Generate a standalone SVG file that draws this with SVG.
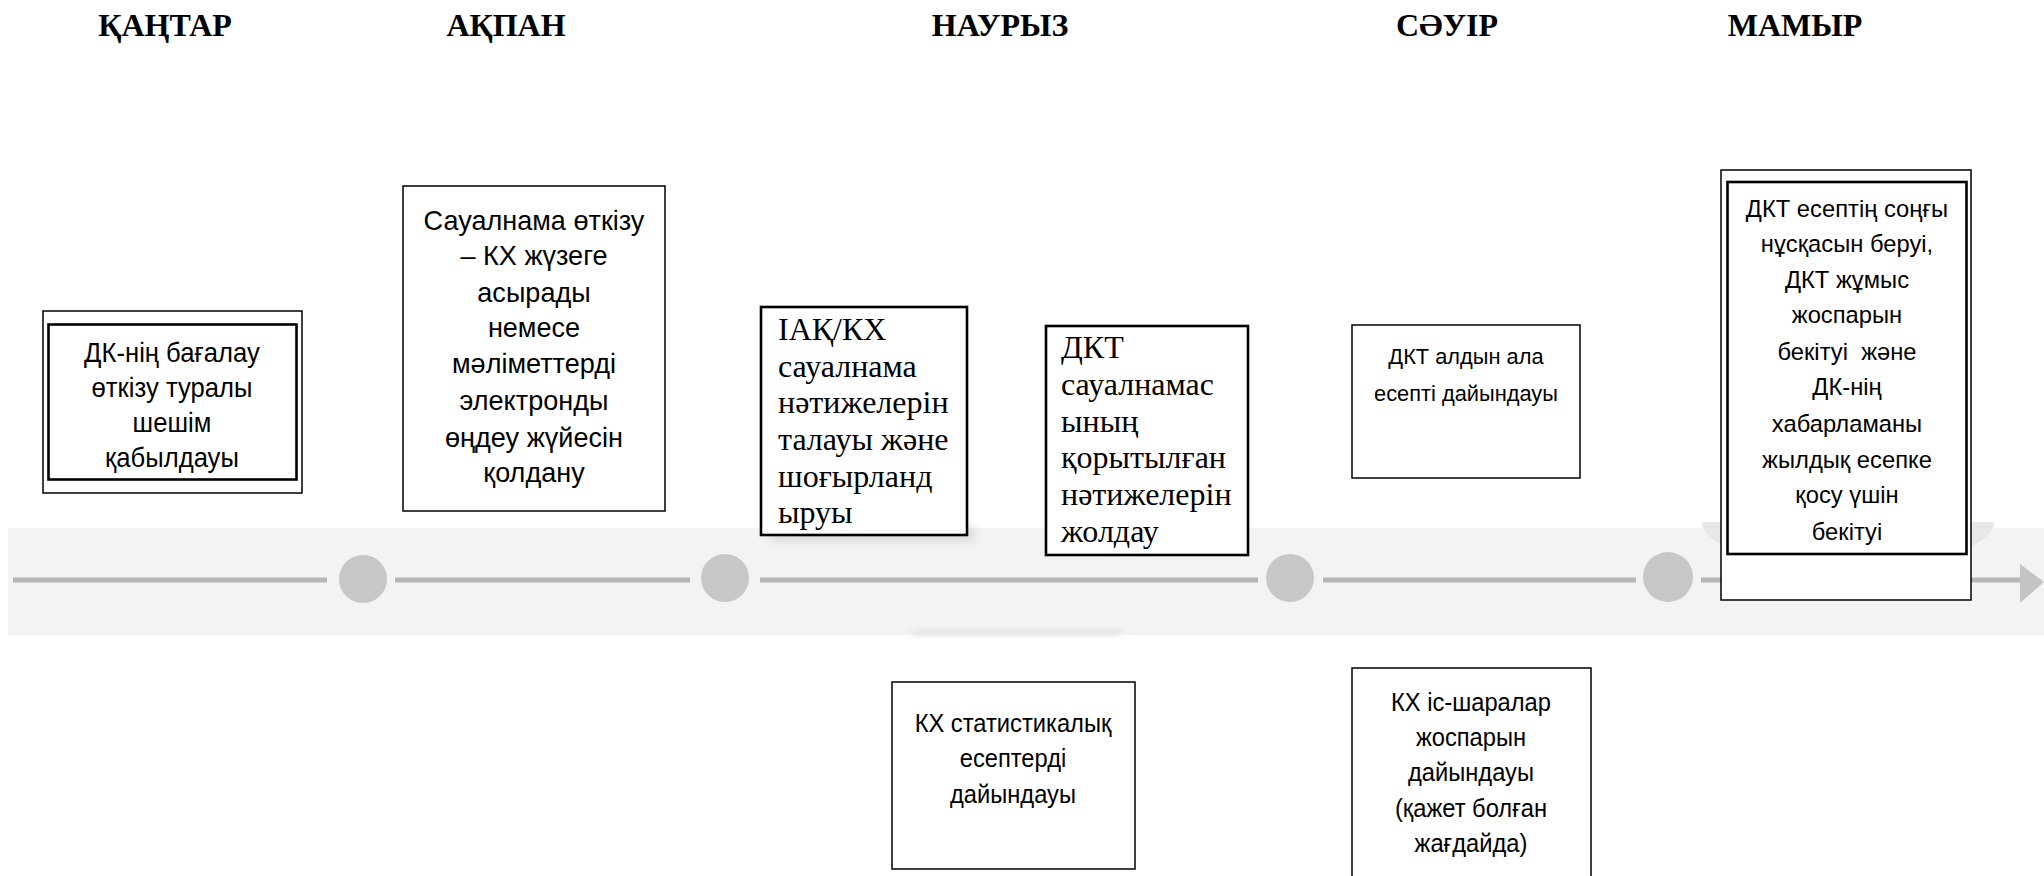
<svg xmlns="http://www.w3.org/2000/svg" width="2044" height="876" viewBox="0 0 2044 876">
<style>
.box{fill:#fff;stroke:#000;stroke-width:1.5}
.thick{fill:#fff;stroke:#000;stroke-width:2.6}
.inner{fill:none;stroke:#000;stroke-width:2.6}
.sans{font-family:"Liberation Sans",Arial,sans-serif;fill:#000;text-anchor:middle}
.serif{font-family:"Liberation Serif","Times New Roman",serif;fill:#000;font-size:32px}
.month{font-family:"Liberation Serif","Times New Roman",serif;font-weight:bold;font-size:32px;text-anchor:middle;fill:#000}
.seg{stroke:#b6b6b6;stroke-width:5;fill:none}
.dot{fill:#c7c7c7}
</style>
<defs>
<clipPath id="bandclip"><rect x="0" y="522" width="2044" height="120"/></clipPath>
<filter id="blur" x="-20%" y="-50%" width="140%" height="200%"><feGaussianBlur stdDeviation="4"/></filter>
</defs>
<rect x="0" y="0" width="2044" height="876" fill="#fff"/>

<g id="background">
<rect x="8" y="528" width="2036" height="107" fill="#f3f3f3"/>
<rect x="912" y="630" width="210" height="5" fill="#dcdcdc" filter="url(#blur)"/>
<g clip-path="url(#bandclip)">
<ellipse cx="1848" cy="522" rx="146" ry="46" fill="#e7e7e7"/>
</g>
<rect x="770" y="526" width="205" height="16" fill="#dedede" filter="url(#blur)"/>
</g>

<g id="months">
<text class="month" x="165" y="36">ҚАҢТАР</text>
<text class="month" x="506" y="36">АҚПАН</text>
<text class="month" x="1000" y="36">НАУРЫЗ</text>
<text class="month" x="1447" y="36">СӘУІР</text>
<text class="month" x="1795" y="36">МАМЫР</text>
</g>

<g id="connectors">
<line class="seg" x1="13" y1="580" x2="327" y2="580"/>
<line class="seg" x1="395" y1="580" x2="690" y2="580"/>
<line class="seg" x1="760" y1="580" x2="1258" y2="580"/>
<line class="seg" x1="1323" y1="580" x2="1636" y2="580"/>
<line class="seg" x1="1701" y1="580" x2="2024" y2="580"/>
<polygon points="2020,564 2044,582 2020,603" fill="#c4c4c4"/>
<circle class="dot" cx="363" cy="579" r="24"/>
<circle class="dot" cx="725" cy="578" r="24"/>
<circle class="dot" cx="1290" cy="578" r="24"/>
<circle class="dot" cx="1668" cy="577" r="25"/>
</g>

<g id="node-jan">
<rect class="box" x="43" y="311" width="259" height="182" stroke-width="1.3"/>
<rect class="inner" x="48.5" y="324.5" width="248" height="155"/>
<g transform="translate(172,0) scale(0.95,1) translate(-172,0)">
<text class="sans" font-size="27" x="172" y="362">ДК-нің бағалау</text>
<text class="sans" font-size="27" x="172" y="397">өткізу туралы</text>
<text class="sans" font-size="27" x="172" y="432">шешім</text>
<text class="sans" font-size="27" x="172" y="467">қабылдауы</text>
</g>
</g>

<g id="node-feb">
<rect class="box" x="403" y="186" width="262" height="325"/>
<g transform="translate(534,0) scale(0.95,1) translate(-534,0)">
<text class="sans" font-size="28.5" x="534" y="230">Сауалнама өткізу</text>
<text class="sans" font-size="28.5" x="534" y="265">– КХ жүзеге</text>
<text class="sans" font-size="28.5" x="534" y="302">асырады</text>
<text class="sans" font-size="28.5" x="534" y="337">немесе</text>
<text class="sans" font-size="28.5" x="534" y="373">мәліметтерді</text>
<text class="sans" font-size="28.5" x="534" y="410">электронды</text>
<text class="sans" font-size="28.5" x="534" y="447">өңдеу жүйесін</text>
<text class="sans" font-size="28.5" x="534" y="482">қолдану</text>
</g>
</g>

<g id="node-mar-1">
<rect class="thick" x="761" y="307" width="206" height="228"/>
<text class="serif" x="778" y="340">ІАҚ/КХ</text>
<text class="serif" x="778" y="377">сауалнама</text>
<text class="serif" x="778" y="413">нәтижелерін</text>
<text class="serif" x="778" y="450">талауы және</text>
<text class="serif" x="778" y="487">шоғырланд</text>
<text class="serif" x="778" y="523">ыруы</text>
</g>

<g id="node-mar-2">
<rect class="thick" x="1046" y="326" width="202" height="229"/>
<text class="serif" x="1061" y="358">ДКТ</text>
<text class="serif" x="1061" y="395">сауалнамас</text>
<text class="serif" x="1061" y="432">ының</text>
<text class="serif" x="1061" y="468">қорытылған</text>
<text class="serif" x="1061" y="505">нәтижелерін</text>
<text class="serif" x="1061" y="542">жолдау</text>
</g>

<g id="node-mar-3">
<rect class="box" x="892" y="682" width="243" height="187" stroke-width="1.3"/>
<g transform="translate(1013,0) scale(0.93,1) translate(-1013,0)">
<text class="sans" font-size="25.5" x="1013" y="732">КХ статистикалық</text>
<text class="sans" font-size="25.5" x="1013" y="767">есептерді</text>
<text class="sans" font-size="25.5" x="1013" y="803">дайындауы</text>
</g>
</g>

<g id="node-apr-1">
<rect class="box" x="1352" y="325" width="228" height="153"/>
<g transform="translate(1466,0) scale(0.97,1) translate(-1466,0)">
<text class="sans" font-size="22.5" x="1466" y="364">ДКТ алдын ала</text>
<text class="sans" font-size="22.5" x="1466" y="401">есепті дайындауы</text>
</g>
</g>

<g id="node-apr-2">
<rect class="box" x="1352" y="668" width="239" height="212" stroke-width="1.3"/>
<g transform="translate(1471,0) scale(0.93,1) translate(-1471,0)">
<text class="sans" font-size="25.5" x="1471" y="711">КХ іс-шаралар</text>
<text class="sans" font-size="25.5" x="1471" y="746">жоспарын</text>
<text class="sans" font-size="25.5" x="1471" y="781">дайындауы</text>
<text class="sans" font-size="25.5" x="1471" y="817">(қажет болған</text>
<text class="sans" font-size="25.5" x="1471" y="852">жағдайда)</text>
</g>
</g>

<g id="node-may">
<rect class="box" x="1721" y="170" width="250" height="430" stroke-width="1.3"/>
<rect class="inner" x="1727.5" y="182" width="239" height="372"/>
<g transform="translate(1847,0) scale(0.97,1) translate(-1847,0)">
<text class="sans" font-size="24.5" x="1847" y="217">ДКТ есептің соңғы</text>
<text class="sans" font-size="24.5" x="1847" y="252">нұсқасын беруі,</text>
<text class="sans" font-size="24.5" x="1847" y="288">ДКТ жұмыс</text>
<text class="sans" font-size="24.5" x="1847" y="323">жоспарын</text>
<text class="sans" font-size="24.5" x="1847" y="360">бекітуі&#160; және</text>
<text class="sans" font-size="24.5" x="1847" y="395">ДК-нің</text>
<text class="sans" font-size="24.5" x="1847" y="432">хабарламаны</text>
<text class="sans" font-size="24.5" x="1847" y="468">жылдық есепке</text>
<text class="sans" font-size="24.5" x="1847" y="503">қосу үшін</text>
<text class="sans" font-size="24.5" x="1847" y="540">бекітуі</text>
</g>
</g>
</svg>
